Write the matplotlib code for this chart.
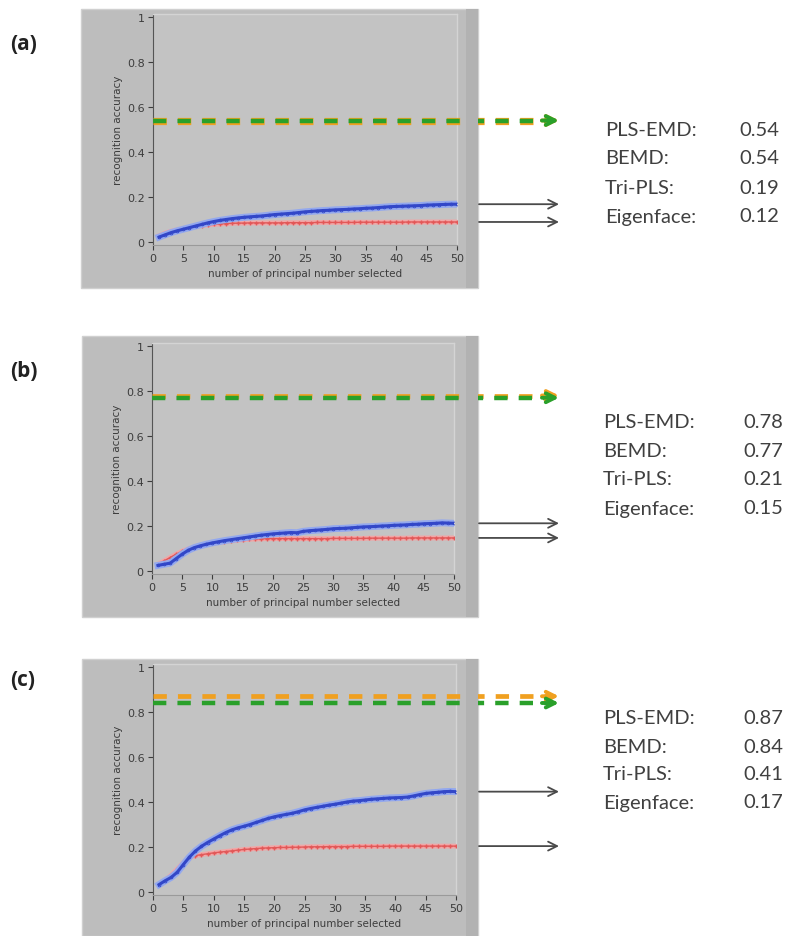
import matplotlib
matplotlib.use("Agg")
import matplotlib.pyplot as plt
from matplotlib.patches import Rectangle

W, H = 790, 937

# number of principal components (x axis)
n_pc = list(range(1, 51))

# recognition accuracy curves, panel (a)
a_tripls = [0.022, 0.032, 0.042, 0.050, 0.057, 0.064, 0.071, 0.078, 0.085, 0.091,
            0.096, 0.100, 0.104, 0.107, 0.110, 0.112, 0.114, 0.116, 0.119, 0.122,
            0.124, 0.126, 0.128, 0.131, 0.134, 0.136, 0.138, 0.140, 0.141, 0.143,
            0.144, 0.145, 0.147, 0.148, 0.150, 0.151, 0.153, 0.155, 0.157, 0.158,
            0.159, 0.160, 0.161, 0.162, 0.164, 0.165, 0.166, 0.167, 0.168, 0.168]
a_eigen = [0.028, 0.040, 0.048, 0.054, 0.060, 0.065, 0.069, 0.073, 0.076, 0.078,
           0.080, 0.082, 0.083, 0.084, 0.084, 0.085, 0.085, 0.085, 0.085, 0.085,
           0.085, 0.086, 0.086, 0.086, 0.086, 0.086, 0.087, 0.087, 0.087, 0.087,
           0.087, 0.087, 0.087, 0.088, 0.088, 0.088, 0.088, 0.088, 0.088, 0.088,
           0.088, 0.089, 0.089, 0.089, 0.089, 0.089, 0.089, 0.089, 0.089, 0.089]

# panel (b)
b_tripls = [0.025, 0.030, 0.035, 0.055, 0.075, 0.092, 0.104, 0.112, 0.119, 0.125,
            0.130, 0.135, 0.139, 0.143, 0.147, 0.151, 0.155, 0.159, 0.162, 0.165,
            0.167, 0.169, 0.171, 0.170, 0.176, 0.179, 0.181, 0.183, 0.185, 0.188,
            0.189, 0.190, 0.192, 0.194, 0.196, 0.197, 0.198, 0.200, 0.201, 0.203,
            0.204, 0.205, 0.207, 0.208, 0.210, 0.211, 0.212, 0.214, 0.213, 0.212]
b_eigen = [0.030, 0.045, 0.060, 0.075, 0.088, 0.098, 0.106, 0.113, 0.118, 0.123,
           0.127, 0.131, 0.134, 0.137, 0.139, 0.141, 0.142, 0.143, 0.144, 0.144,
           0.144, 0.144, 0.144, 0.144, 0.144, 0.144, 0.144, 0.144, 0.144, 0.145,
           0.145, 0.145, 0.145, 0.145, 0.145, 0.146, 0.146, 0.146, 0.146, 0.146,
           0.146, 0.146, 0.147, 0.147, 0.147, 0.147, 0.147, 0.147, 0.147, 0.147]

# panel (c)
c_tripls = [0.033, 0.050, 0.065, 0.088, 0.122, 0.155, 0.182, 0.203, 0.220, 0.235,
            0.250, 0.264, 0.276, 0.285, 0.292, 0.300, 0.309, 0.318, 0.327, 0.334,
            0.340, 0.345, 0.350, 0.357, 0.365, 0.371, 0.376, 0.381, 0.386, 0.390,
            0.395, 0.400, 0.404, 0.406, 0.409, 0.412, 0.414, 0.416, 0.418, 0.419,
            0.420, 0.422, 0.427, 0.433, 0.438, 0.441, 0.443, 0.446, 0.447, 0.446]
c_eigen = [0.033, 0.052, 0.075, 0.102, 0.130, 0.152, 0.162, 0.166, 0.170, 0.174,
           0.177, 0.180, 0.183, 0.186, 0.189, 0.191, 0.193, 0.195, 0.196, 0.197,
           0.198, 0.198, 0.199, 0.199, 0.200, 0.201, 0.201, 0.201, 0.202, 0.202,
           0.202, 0.202, 0.203, 0.203, 0.203, 0.203, 0.203, 0.203, 0.204, 0.204,
           0.204, 0.204, 0.204, 0.204, 0.204, 0.204, 0.204, 0.204, 0.204, 0.204]

# constant accuracies of the EMD methods, and the listed summary values
methods = ["PLS-EMD:", "BEMD:", "Tri-PLS:", "Eigenface:"]
summary = {
    "a": ["0.54", "0.54", "0.19", "0.12"],
    "b": ["0.78", "0.77", "0.21", "0.15"],
    "c": ["0.87", "0.84", "0.41", "0.17"],
}
pls_emd = {"a": 0.54, "b": 0.78, "c": 0.87}
bemd = {"a": 0.54, "b": 0.77, "c": 0.84}
tripls = {"a": a_tripls, "b": b_tripls, "c": c_tripls}
eigen = {"a": a_eigen, "b": b_eigen, "c": c_eigen}

xticks = [0, 5, 10, 15, 20, 25, 30, 35, 40, 45, 50]
yticks = [0, 0.2, 0.4, 0.6, 0.8, 1]
ytick_labels = ["0", "0.2", "0.4", "0.6", "0.8", "1"]

# pixel layout: panel box, axes box (x0, x1, y_top(1.0), y_bottom(0.0)), text rows
layout = {
    "a": dict(panel=(81, 10, 478, 289), ax=(153, 457, 18, 243), label_y=45,
              rows=[130, 159, 188, 217]),
    "b": dict(panel=(82, 337, 478, 618), ax=(152, 454, 347, 572), label_y=372,
              rows=[423, 452, 480, 509]),
    "c": dict(panel=(82, 660, 478, 937), ax=(153, 456, 668, 893), label_y=681,
              rows=[719, 748, 775, 803]),
}

ORANGE = "#f0a020"
GREEN = "#2aa02a"
BLUE = "#3247c8"
BLUE_HALO = "#93a8ee"
RED = "#e25858"
RED_HALO = "#f2a6a6"
TXT = "#404040"

fig = plt.figure(figsize=(W / 100, H / 100), dpi=100)
fig.patch.set_facecolor("white")


def fx(px):
    return px / W


def fy(py):
    return 1 - py / H


for key in ["a", "b", "c"]:
    L = layout[key]
    px0, py0, px1, py1 = L["panel"]
    # grey panel and the darker strip on its right side
    fig.add_artist(Rectangle((fx(px0), fy(py1)), fx(px1 - px0), (py1 - py0) / H,
                             transform=fig.transFigure, facecolor="#bdbdbd",
                             edgecolor="#d0d0d0", lw=1, zorder=0))
    fig.add_artist(Rectangle((fx(px1 - 12), fy(py1)), fx(12), (py1 - py0) / H,
                             transform=fig.transFigure, facecolor="#b2b2b2",
                             edgecolor="none", zorder=0.5))

    ax0, ax1, ay1, ay0 = L["ax"]
    unit = (ay0 - ay1)
    ylo, yhi = -0.012, 1.012
    bottom = ay0 + 0.012 * unit
    top = ay1 - 0.012 * unit
    ax = fig.add_axes([fx(ax0), fy(bottom), fx(ax1 - ax0), (bottom - top) / H])
    ax.set_facecolor("#c3c3c3")
    ax.set_xlim(0, 50)
    ax.set_ylim(ylo, yhi)
    xs = (ax1 - ax0) / 50.0  # pixels per x unit

    # dashed constant lines running out to arrows beyond the panel
    x_end = (548 - ax0) / xs
    x_tip = (559 - ax0) / xs
    lw_o = 5.2 if pls_emd[key] == bemd[key] else 3.4
    ax.plot([0, x_end], [pls_emd[key]] * 2, color=ORANGE, lw=lw_o,
            dashes=(9.6 / lw_o, 8.0 / lw_o), clip_on=False, zorder=3)
    ax.plot([0, x_end], [bemd[key]] * 2, color=GREEN, lw=3.2,
            dashes=(3.0, 2.5), clip_on=False, zorder=4)
    for val, col in [(pls_emd[key], ORANGE), (bemd[key], GREEN)]:
        ax.annotate("", xy=(x_tip, val), xytext=(x_end - 1, val),
                    arrowprops=dict(arrowstyle="->", color=col, lw=2.8,
                                    mutation_scale=16, shrinkA=0, shrinkB=0),
                    annotation_clip=False, zorder=5)

    # accuracy curves
    ax.plot(n_pc, eigen[key], color=RED_HALO, lw=3.5, zorder=5)
    ax.plot(n_pc, eigen[key], color=RED, lw=1.0, marker="+", ms=3.5,
            mew=1.0, zorder=6)
    ax.plot(n_pc, tripls[key], color=BLUE_HALO, lw=5, zorder=7)
    ax.plot(n_pc, tripls[key], color=BLUE, lw=2.2, marker="o", ms=2,
            mfc="none", mew=0.6, zorder=8)

    # black arrows from the curve end values
    xa0 = (479 - ax0) / xs
    for val in [tripls[key][-1], eigen[key][-1]]:
        ax.annotate("", xy=(x_tip, val), xytext=(xa0, val),
                    arrowprops=dict(arrowstyle="->", color="#4a4a4a", lw=1.3,
                                    mutation_scale=16, shrinkA=0, shrinkB=0),
                    annotation_clip=False, zorder=5)

    ax.set_xticks(xticks)
    ax.set_yticks(yticks)
    ax.set_yticklabels(ytick_labels)
    ax.tick_params(axis="both", labelsize=8, colors="#3c3c3c",
                   length=3.5, width=0.8, pad=2.5)
    for s in ["top", "right"]:
        ax.spines[s].set_color("#d4d4d4")
        ax.spines[s].set_linewidth(1.0)
    ax.spines["left"].set_color("#555555")
    ax.spines["bottom"].set_color("#9a9a9a")
    ax.set_ylabel("recognition accuracy", fontsize=7.5, color="#3c3c3c",
                  labelpad=3)
    ax.set_xlabel("number of principal number selected", fontsize=7.5,
                  color="#3c3c3c", labelpad=3.5)

    # panel letter
    fig.text(fx(10), fy(L["label_y"]), "(%s)" % key, fontsize=15,
             fontweight="bold", family="Open Sans", color="#222222",
             va="center", ha="left")

    # summary values on the right
    tx = 605 if key == "a" else 603
    vx = 779 if key == "a" else 783
    for name, v, ry in zip(methods, summary[key], L["rows"]):
        fig.text(fx(tx), fy(ry), name, fontsize=14.5, family="Lato",
                 color=TXT, va="center", ha="left")
        fig.text(fx(vx), fy(ry), v, fontsize=14.5, family="Lato",
                 color=TXT, va="center", ha="right")

fig.savefig("out.png", dpi=100, facecolor="white")
